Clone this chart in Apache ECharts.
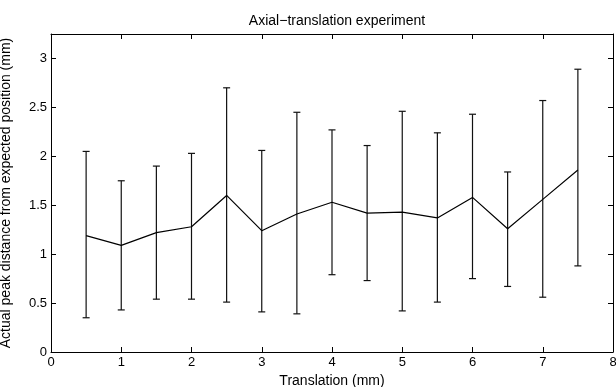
<!DOCTYPE html>
<html>
<head>
<meta charset="utf-8">
<script src="https://cdn.jsdelivr.net/npm/echarts@6/dist/echarts.min.js"></script>
<style>html,body{margin:0;padding:0;background:#fff;}#c{width:616px;height:387px;}</style>
</head>
<body>
<div id="c"></div>
<script>
var translation = [0.5, 1, 1.5, 2, 2.5, 3, 3.5, 4, 4.5, 5, 5.5, 6, 6.5, 7, 7.5];
var meanDist = [1.19, 1.09, 1.22, 1.28, 1.60, 1.24, 1.41, 1.53, 1.42, 1.43, 1.37, 1.58, 1.26, 1.56, 1.86];
var upperDist = [2.05, 1.75, 1.90, 2.03, 2.70, 2.06, 2.45, 2.27, 2.11, 2.46, 2.24, 2.43, 1.84, 2.57, 2.89];
var lowerDist = [0.35, 0.43, 0.54, 0.54, 0.51, 0.41, 0.39, 0.79, 0.73, 0.42, 0.51, 0.75, 0.67, 0.56, 0.88];
var xTicks = [0, 1, 2, 3, 4, 5, 6, 7, 8];
var yTicks = [0, 0.5, 1, 1.5, 2, 2.5, 3];

var FONT = 'Liberation Sans, Arial, Helvetica, sans-serif';
var lineData = translation.map(function (x, i) { return [x, meanDist[i]]; });
var errData = translation.map(function (x, i) { return [x, lowerDist[i], upperDist[i]]; });

var chart = echarts.init(document.getElementById('c'), null, {renderer: 'canvas'});
function axisCommon() {
  return {
    axisLine: {show: true, onZero: false, lineStyle: {color: '#000', width: 1}},
    axisTick: {show: true, inside: true, length: 5, lineStyle: {color: '#000'}},
    splitLine: {show: false}
  };
}
chart.setOption({
  animation: false,
  backgroundColor: '#fff',
  title: {
    text: 'Axial\u2212translation experiment',
    left: 332, top: 9, textAlign: 'center',
    textStyle: {fontFamily: FONT, fontSize: 14, fontWeight: 'normal', color: '#000'}
  },
  grid: {left: 51, right: 3, top: 34, bottom: 35, containLabel: false, outerBoundsMode: 'none'},
  xAxis: [
    Object.assign({
      type: 'value', min: 0, max: 8, interval: 1, position: 'bottom',
      name: 'Translation (mm)', nameLocation: 'middle', nameGap: 21,
      nameTextStyle: {fontFamily: FONT, fontSize: 14, color: '#000'},
      axisLabel: {fontFamily: FONT, fontSize: 13, color: '#000', margin: 4,
        formatter: function (v) { return xTicks.indexOf(v) >= 0 ? String(v) : ''; }}
    }, axisCommon()),
    Object.assign({
      type: 'value', min: 0, max: 8, interval: 1, position: 'top',
      axisLabel: {show: false}
    }, axisCommon())
  ],
  yAxis: [
    Object.assign({
      type: 'value', min: 0, max: 3.25, interval: 0.5, position: 'left',
      name: 'Actual peak distance from expected position (mm)', nameLocation: 'middle', nameGap: 38,
      nameTextStyle: {fontFamily: FONT, fontSize: 14, color: '#000'},
      axisLabel: {fontFamily: FONT, fontSize: 13, color: '#000', margin: 4, showMaxLabel: false,
        formatter: function (v) { return yTicks.indexOf(v) >= 0 ? String(v) : ''; }}
    }, axisCommon()),
    Object.assign({
      type: 'value', min: 0, max: 3.25, interval: 0.5, position: 'right',
      axisLabel: {show: false}
    }, axisCommon())
  ],
  series: [
    {
      type: 'custom',
      xAxisIndex: 0, yAxisIndex: 0,
      data: errData,
      renderItem: function (params, api) {
        var x = api.value(0);
        var lo = api.coord([x, api.value(1)]);
        var hi = api.coord([x, api.value(2)]);
        var cw = 3.5;
        var st = {stroke: '#111', lineWidth: 1.2, fill: null};
        return {
          type: 'group',
          children: [
            {type: 'line', shape: {x1: lo[0], y1: lo[1], x2: hi[0], y2: hi[1]}, style: st},
            {type: 'line', shape: {x1: hi[0] - cw, y1: hi[1], x2: hi[0] + cw, y2: hi[1]}, style: st},
            {type: 'line', shape: {x1: lo[0] - cw, y1: lo[1], x2: lo[0] + cw, y2: lo[1]}, style: st}
          ]
        };
      },
      z: 2
    },
    {
      type: 'line',
      xAxisIndex: 0, yAxisIndex: 0,
      data: lineData,
      showSymbol: false, symbol: 'none',
      lineStyle: {color: '#000', width: 1.2},
      z: 3
    }
  ]
});
</script>
</body>
</html>
